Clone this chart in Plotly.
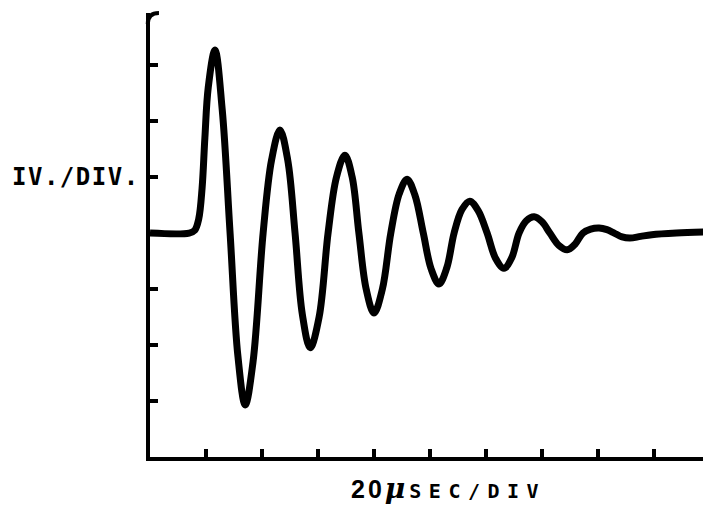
import plotly.graph_objects as go

# Trace (x in time divisions, y in volt divisions)
time_div = [0.0, 0.70, 0.80, 0.87, 0.93, 0.98, 1.04, 1.16, 1.29, 1.43, 1.57, 1.70,
            1.84, 2.02, 2.17, 2.32, 2.46, 2.59, 2.72, 2.86, 3.02, 3.18, 3.33,
            3.48, 3.61, 3.73, 3.86, 4.00, 4.15, 4.30, 4.45, 4.59, 4.73, 4.88,
            5.02, 5.16, 5.30, 5.43, 5.57, 5.71, 5.86, 6.02, 6.17, 6.32, 6.46,
            6.59, 6.72, 6.86, 7.00, 7.14, 7.30, 7.45, 7.59, 7.73, 7.87, 8.02,
            8.16, 8.29, 8.43, 8.57, 8.76, 8.96, 9.40, 9.95]
volts_div = [0.0, 0.0, 0.05, 0.25, 0.80, 1.70, 2.60, 3.27, 2.20, 0.0, -2.20, -3.07,
             -2.30, 0.0, 1.30, 1.84, 1.30, 0.0, -1.45, -2.05, -1.50, 0.0, 1.00,
             1.39, 1.00, 0.0, -1.00, -1.43, -1.00, 0.0, 0.70, 0.96, 0.68, 0.0,
             -0.64, -0.91, -0.62, 0.0, 0.42, 0.57, 0.40, 0.0, -0.45, -0.63, -0.44,
             0.0, 0.22, 0.29, 0.20, 0.0, -0.22, -0.30, -0.20, 0.0, 0.07, 0.09,
             0.06, 0.0, -0.07, -0.09, -0.06, -0.03, 0.0, 0.02]

x_ticks = [1, 2, 3, 4, 5, 6, 7, 8, 9, 10]
y_ticks = [-3, -2, -1, 1, 2, 3]
y_label = "IV./DIV."
x_label_num = "20"
x_label_unit = "SEC/DIV"

fig = go.Figure()
fig.add_trace(go.Scatter(
    x=time_div, y=volts_div, mode="lines",
    line=dict(color="black", width=7, shape="spline", smoothing=1.0),
    hoverinfo="skip", showlegend=False,
))

fig.update_layout(
    width=703, height=515,
    margin=dict(l=142, r=1, t=5, b=66),
    paper_bgcolor="white", plot_bgcolor="white",
    xaxis=dict(range=[0, 10], showgrid=False, zeroline=False,
               showline=True, linecolor="black", linewidth=4,
               ticks="inside", tickvals=x_ticks, ticklen=8, tickwidth=4,
               tickcolor="black", showticklabels=False),
    yaxis=dict(range=[-4.0, 3.93], showgrid=False, zeroline=False,
               showline=True, linecolor="black", linewidth=4,
               ticks="inside", tickvals=y_ticks, ticklen=8, tickwidth=4,
               tickcolor="black", showticklabels=False),
    shapes=[
        # small hand-drawn hook at the top of the vertical axis
        dict(type="path", xref="paper", yref="paper",
             path="M -0.004,0.975 Q -0.004,1.0 0.016,1.0",
             line=dict(color="black", width=4)),
    ],
    annotations=[
        dict(text="<b><span style='letter-spacing:1.5px'>" + y_label + "</span></b>",
             xref="paper", yref="y", x=-0.1316, y=1.0, showarrow=False,
             xanchor="center", yanchor="middle",
             font=dict(family="DejaVu Sans Mono", size=24, color="black")),
        dict(text="<b><span style='font-family:Liberation Sans Narrow, Liberation Sans;font-size:25px;letter-spacing:3px'>"
                  + x_label_num + "</span></b><b><i><span style='font-size:28px;font-family:DejaVu Serif;letter-spacing:4px'>μ</span></i></b>"
                  + "<b><span style='letter-spacing:7.5px;font-size:20px'>" + x_label_unit + "</span></b>",
             xref="paper", yref="paper", x=0.355, y=-0.03, showarrow=False,
             xanchor="left", yanchor="top",
             font=dict(family="DejaVu Sans Mono", size=19, color="black")),
    ],
)

fig.write_html("out.html")
